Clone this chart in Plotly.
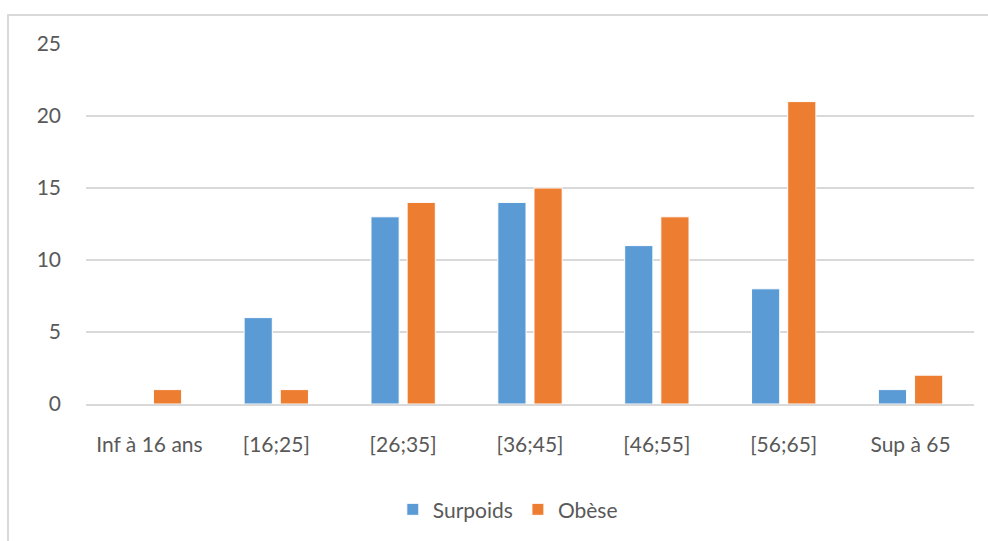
import plotly.graph_objects as go

categories = ["Inf à 16 ans", "[16;25]", "[26;35]", "[36;45]", "[46;55]", "[56;65]", "Sup à 65"]
surpoids = [0, 6, 13, 14, 11, 8, 1]
obese = [1, 1, 14, 15, 13, 21, 2]
y_ticks = [0, 5, 10, 15, 20, 25]

W, H = 988, 541
L, R, T, B = 86, 14, 44, 136

font_family = "Lato, 'Open Sans', sans-serif"
text_color = "#595959"
fs = 21

fig = go.Figure()
fig.add_trace(go.Bar(name="Surpoids", x=categories, y=surpoids,
                     marker=dict(color="#5b9bd5", line=dict(color="white", width=1))))
fig.add_trace(go.Bar(name="Obèse", x=categories, y=obese,
                     marker=dict(color="#ed7d31", line=dict(color="white", width=1))))

pw, ph = W - L - R, H - T - B
# outer chart frame
fig.add_shape(type="rect", xref="paper", yref="paper",
              x0=(8 - L) / pw, x1=(W + 10 - L) / pw,
              y0=-(H + 10 - T - ph) / ph, y1=(H - B - 15) / ph,
              line=dict(color="#d9d9d9", width=2), fillcolor="rgba(0,0,0,0)", layer="below")

fig.update_layout(
    width=W, height=H,
    margin=dict(l=L, r=R, t=T, b=B),
    paper_bgcolor="white", plot_bgcolor="white",
    barmode="group", bargap=0.43, bargroupgap=0.22,
    font=dict(family=font_family, size=fs, color=text_color),
    showlegend=True,
    legend=dict(orientation="h", x=0.475, xanchor="center", y=-0.29, yanchor="middle",
                font=dict(size=fs, color=text_color), itemwidth=30,
                traceorder="normal"),
    xaxis=dict(showgrid=False, showline=True, linecolor="#d9d9d9", linewidth=1.5,
               ticks="", ticklabelstandoff=21, tickfont=dict(size=fs, color=text_color)),
    yaxis=dict(range=[0, 25], tickvals=y_ticks, showgrid=True, gridcolor="#d9d9d9",
               gridwidth=1.5, zeroline=False, showline=False, ticks="",
               ticklabelstandoff=24, tickfont=dict(size=fs, color=text_color)),
)

fig.write_html("out.html")
